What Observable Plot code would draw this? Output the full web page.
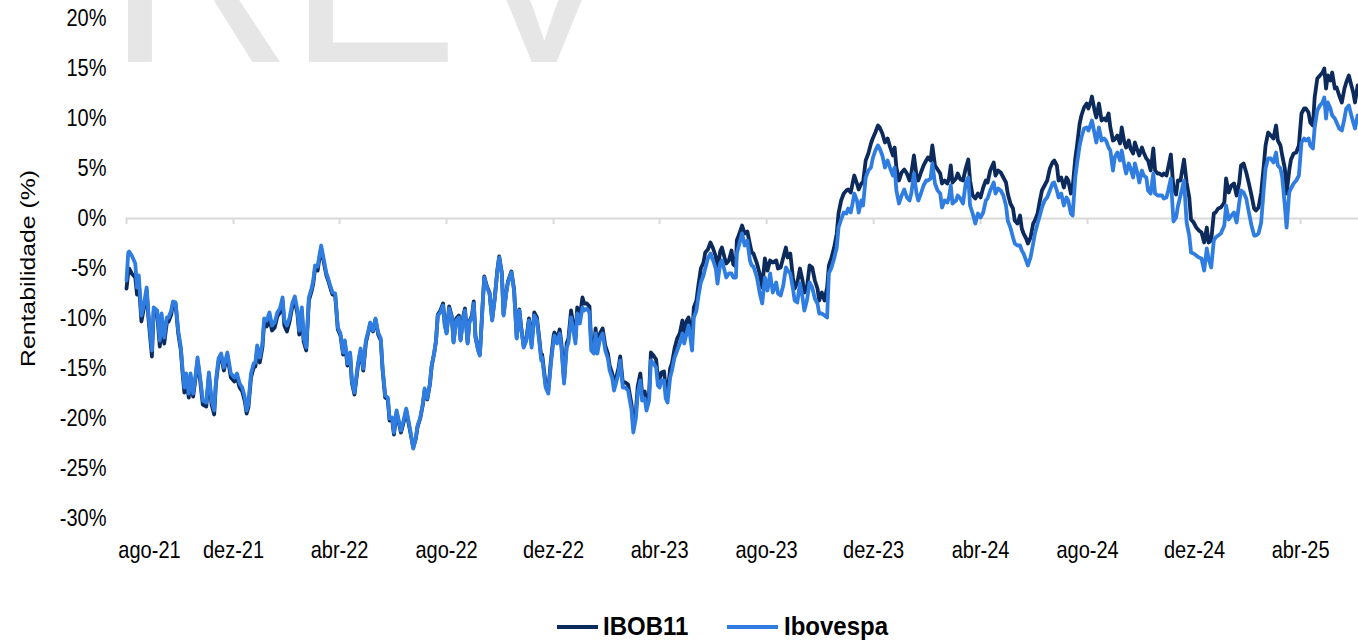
<!DOCTYPE html>
<html>
<head>
<meta charset="utf-8">
<script src="https://cdn.jsdelivr.net/npm/d3@7"></script>
<script src="https://cdn.jsdelivr.net/npm/@observablehq/plot@0.6"></script>
<style>
  html, body { margin: 0; padding: 0; background: #fff; }
  #wrap { position: relative; width: 1358px; height: 641px; overflow: hidden; font-family: Arial, "Liberation Sans", sans-serif; }
  #wm { position: absolute; left: 0; top: 0; }
  #chart { position: absolute; left: 0; top: 0; }
  #legend { position: absolute; left: 0; top: 0; width: 1358px; height: 641px; pointer-events: none; }
  .sw { position: absolute; height: 4px; top: 625px; }
  .lab { position: absolute; top: 615px; font-weight: bold; font-size: 24px; line-height: 22px; color: #000; transform: scaleY(1.1); transform-origin: 0 50%; white-space: nowrap; }
</style>
</head>
<body>
<div id="wrap">
  <svg id="wm" width="1358" height="64"><g font-family="Arial, 'Liberation Sans', sans-serif" font-size="256" fill="#e6e6e6"><text x="107" y="62">R</text><text x="288" y="62">EV</text></g></svg>
  <div id="chart"></div>
  <div id="legend"></div>
</div>
<script>
// ---- Data ----
const dates = [
"2021-08-01","2021-08-03","2021-08-04","2021-08-07","2021-08-11","2021-08-13","2021-08-15","2021-08-18","2021-08-21","2021-08-24",
"2021-08-26","2021-08-30","2021-09-01","2021-09-05","2021-09-08","2021-09-10","2021-09-13","2021-09-16","2021-09-18","2021-09-21",
"2021-09-23","2021-09-26","2021-09-29","2021-10-02","2021-10-04","2021-10-06","2021-10-08","2021-10-11","2021-10-13","2021-10-16",
"2021-10-19","2021-10-21","2021-10-24","2021-10-27","2021-10-31","2021-11-03","2021-11-06","2021-11-09","2021-11-11","2021-11-14",
"2021-11-17","2021-11-20","2021-11-24","2021-11-28","2021-12-02","2021-12-05","2021-12-08","2021-12-11","2021-12-14","2021-12-16",
"2021-12-18","2021-12-21","2021-12-24","2021-12-26","2021-12-28","2021-12-31","2022-01-03","2022-01-05","2022-01-08","2022-01-11",
"2022-01-14","2022-01-17","2022-01-20","2022-01-23","2022-01-26","2022-01-28","2022-01-31","2022-02-03","2022-02-06","2022-02-09",
"2022-02-12","2022-02-14","2022-02-17","2022-02-19","2022-02-22","2022-02-25","2022-02-28","2022-03-02","2022-03-04","2022-03-07",
"2022-03-09","2022-03-11","2022-03-14","2022-03-17","2022-03-19",
"2022-03-22","2022-03-24","2022-03-27","2022-03-30","2022-04-02","2022-04-05","2022-04-07","2022-04-10","2022-04-13","2022-04-15",
"2022-04-18","2022-04-22","2022-04-25","2022-04-28","2022-05-01","2022-05-04","2022-05-06","2022-05-09","2022-05-12","2022-05-15",
"2022-05-18","2022-05-20","2022-05-23","2022-05-26","2022-05-28","2022-05-31","2022-06-02","2022-06-05","2022-06-08","2022-06-10",
"2022-06-13","2022-06-16","2022-06-19","2022-06-22","2022-06-24","2022-06-27","2022-06-29","2022-07-02","2022-07-05","2022-07-07",
"2022-07-10","2022-07-13","2022-07-15","2022-07-18","2022-07-20","2022-07-22","2022-07-25","2022-07-28","2022-07-30","2022-08-01",
"2022-08-04","2022-08-07","2022-08-09","2022-08-12","2022-08-15","2022-08-17","2022-08-20","2022-08-22","2022-08-25","2022-08-27",
"2022-08-30","2022-09-01","2022-09-03","2022-09-06","2022-09-08","2022-09-11","2022-09-13","2022-09-16","2022-09-19","2022-09-22",
"2022-09-25","2022-09-28","2022-09-30","2022-10-03","2022-10-05","2022-10-08","2022-10-10","2022-10-14","2022-10-17","2022-10-20",
"2022-10-23","2022-10-25","2022-10-28","2022-10-31","2022-11-03","2022-11-06","2022-11-09","2022-11-12","2022-11-15","2022-11-17",
"2022-11-18","2022-11-22","2022-11-25","2022-11-28","2022-12-01","2022-12-02","2022-12-05","2022-12-08","2022-12-10","2022-12-13",
"2022-12-16","2022-12-18","2022-12-21","2022-12-23","2022-12-26","2022-12-28","2022-12-31","2023-01-03","2023-01-05","2023-01-08",
"2023-01-11","2023-01-13","2023-01-16","2023-01-18","2023-01-20","2023-01-23","2023-01-26","2023-01-29","2023-02-01","2023-02-03",
"2023-02-06","2023-02-08","2023-02-11","2023-02-13","2023-02-15","2023-02-18","2023-02-21","2023-02-24","2023-02-26","2023-02-28",
"2023-03-02","2023-03-05","2023-03-07","2023-03-10","2023-03-12","2023-03-15","2023-03-17","2023-03-20","2023-03-22","2023-03-25",
"2023-03-28","2023-03-30","2023-04-01","2023-04-03","2023-04-06","2023-04-08","2023-04-10","2023-04-13","2023-04-15","2023-04-18",
"2023-04-21","2023-04-24","2023-04-27","2023-04-29","2023-05-02","2023-05-04","2023-05-06","2023-05-08","2023-05-10","2023-05-13",
"2023-05-15","2023-05-18","2023-05-21","2023-05-23","2023-05-26","2023-05-29","2023-06-01","2023-06-04","2023-06-06","2023-06-09",
"2023-06-11","2023-06-14","2023-06-16","2023-06-19","2023-06-22","2023-06-24","2023-06-27","2023-06-28","2023-07-01","2023-07-04",
"2023-07-07","2023-07-10","2023-07-13","2023-07-15","2023-07-17",
"2023-07-21","2023-07-24","2023-07-27","2023-07-30","2023-08-02","2023-08-05","2023-08-08","2023-08-12","2023-08-14","2023-08-17",
"2023-08-20","2023-08-23","2023-08-25","2023-08-28","2023-08-31","2023-09-02","2023-09-05","2023-09-08","2023-09-11","2023-09-13",
"2023-09-16","2023-09-19","2023-09-22","2023-09-25","2023-09-28","2023-09-30","2023-10-03","2023-10-06","2023-10-09","2023-10-11",
"2023-10-14","2023-10-17","2023-10-20","2023-10-22","2023-10-25","2023-10-28","2023-10-31","2023-11-02","2023-11-05","2023-11-07",
"2023-11-09","2023-11-12","2023-11-14","2023-11-17","2023-11-19","2023-11-22","2023-11-25","2023-11-28","2023-11-30","2023-12-03",
"2023-12-06","2023-12-08","2023-12-11","2023-12-14","2023-12-17","2023-12-20","2023-12-23","2023-12-25","2023-12-27","2023-12-30",
"2024-01-02","2024-01-05","2024-01-08","2024-01-11","2024-01-13","2024-01-16","2024-01-19","2024-01-21","2024-01-24","2024-01-27",
"2024-01-30","2024-02-01","2024-02-04","2024-02-06","2024-02-09","2024-02-12","2024-02-15","2024-02-17","2024-02-20","2024-02-23",
"2024-02-25","2024-02-27","2024-02-29","2024-03-04","2024-03-06","2024-03-09","2024-03-12","2024-03-15","2024-03-18","2024-03-20",
"2024-03-23","2024-03-26","2024-03-29","2024-04-01","2024-04-04","2024-04-07","2024-04-09","2024-04-12","2024-04-16","2024-04-18",
"2024-04-21","2024-04-24","2024-04-27","2024-04-30","2024-05-02","2024-05-05","2024-05-08","2024-05-10","2024-05-13","2024-05-16",
"2024-05-18","2024-05-20","2024-05-23","2024-05-25","2024-05-28","2024-05-31","2024-06-02","2024-06-05","2024-06-07","2024-06-10",
"2024-06-13","2024-06-16","2024-06-19","2024-06-22","2024-06-24","2024-06-27","2024-06-29","2024-07-02","2024-07-05","2024-07-08",
"2024-07-10","2024-07-13","2024-07-15","2024-07-18","2024-07-20","2024-07-23","2024-07-25","2024-07-28","2024-07-31","2024-08-02",
"2024-08-05","2024-08-06","2024-08-09","2024-08-11","2024-08-14","2024-08-17","2024-08-20","2024-08-22","2024-08-25","2024-08-27",
"2024-08-30","2024-09-01","2024-09-04","2024-09-07","2024-09-09","2024-09-12","2024-09-14","2024-09-17","2024-09-19","2024-09-22",
"2024-09-24","2024-09-27","2024-09-29","2024-10-02","2024-10-04","2024-10-07","2024-10-09","2024-10-12","2024-10-15","2024-10-17",
"2024-10-20","2024-10-22","2024-10-25","2024-10-27","2024-10-30","2024-11-01","2024-11-04","2024-11-07","2024-11-10","2024-11-12",
"2024-11-15","2024-11-19","2024-11-22","2024-11-25","2024-11-27","2024-11-30","2024-12-03","2024-12-06","2024-12-09","2024-12-12",
"2024-12-15","2024-12-17","2024-12-20","2024-12-23","2024-12-25","2024-12-28","2024-12-31","2025-01-04","2025-01-06","2025-01-09",
"2025-01-12","2025-01-15","2025-01-18","2025-01-21","2025-01-23","2025-01-26","2025-01-29","2025-02-01","2025-02-04","2025-02-07",
"2025-02-09","2025-02-12","2025-02-15","2025-02-18","2025-02-20","2025-02-23","2025-02-26","2025-03-01","2025-03-04","2025-03-06",
"2025-03-09","2025-03-11","2025-03-14","2025-03-16","2025-03-19","2025-03-21","2025-03-24","2025-03-27","2025-03-30","2025-04-02",
"2025-04-05","2025-04-07","2025-04-10","2025-04-12","2025-04-15","2025-04-17","2025-04-20","2025-04-23","2025-04-26","2025-04-28",
"2025-04-30","2025-05-02","2025-05-05","2025-05-07","2025-05-10","2025-05-12","2025-05-15","2025-05-18","2025-05-21","2025-05-23",
"2025-05-26","2025-05-28","2025-05-31","2025-06-02","2025-06-05"
];

// IBOB11 return (%)
const ibob11 = [
-7.0,-5.4,-5.0,-5.5,-5.9,-7.6,-6.3,-10.3,-8.9,-7.2,
-9.9,-13.8,-9.3,-9.6,-12.8,-10.0,-12.5,-10.4,-10.3,-9.6,
-8.5,-8.6,-11.5,-13.2,-15.5,-17.4,-15.9,-17.9,-15.9,-17.8,
-15.8,-14.2,-16.2,-18.6,-18.8,-15.7,-18.6,-19.6,-16.5,-14.3,
-13.8,-15.2,-13.7,-15.9,-16.3,-15.9,-16.9,-17.3,-18.3,-19.5,
-18.9,-15.9,-14.9,-14.8,-13.1,-14.4,-12.9,-10.4,-10.8,-10.0,
-11.2,-10.9,-9.8,-9.4,-8.3,-10.7,-11.3,-10.3,-8.9,-8.2,
-9.6,-11.6,-9.3,-12.3,-13.2,-8.2,-7.3,-6.5,-5.0,-5.2,
-4.0,-3.0,-4.4,-5.7,-6.2,
-7.1,-7.6,-7.7,-11.1,-11.7,-13.6,-12.4,-14.7,-13.6,-16.4,
-17.6,-14.7,-13.2,-15.2,-12.4,-11.3,-10.5,-11.3,-10.1,-11.6,
-12.2,-15.1,-17.9,-18.1,-20.2,-20.1,-21.6,-19.4,-20.6,-21.4,
-20.4,-19.2,-20.6,-22.0,-22.9,-22.0,-20.8,-20.0,-18.6,-17.2,
-18.1,-16.6,-14.8,-13.4,-12.2,-9.6,-9.2,-8.5,-10.6,-11.4,
-8.8,-9.8,-12.3,-10.0,-9.7,-12.1,-9.8,-9.0,-12.4,-10.3,
-9.7,-8.3,-11.8,-13.1,-13.6,-8.8,-5.8,-6.8,-7.4,-10.1,
-7.9,-5.1,-3.8,-5.4,-9.6,-7.4,-6.3,-5.3,-7.1,-11.9,
-9.1,-10.8,-12.8,-12.0,-10.0,-12.6,-9.4,-9.9,-12.2,-13.9,
-13.6,-16.6,-17.2,-14.2,-11.8,-11.4,-12.1,-11.1,-12.5,-16.2,
-12.5,-12.0,-9.2,-10.3,-12.0,-8.9,-9.9,-7.9,-8.5,-8.5,
-8.8,-12.6,-12.9,-11.0,-13.0,-11.5,-11.0,-12.7,-13.5,-14.7,
-15.5,-16.7,-15.7,-15.0,-13.8,-16.4,-16.4,-16.6,-17.6,-18.6,
-20.8,-19.2,-16.8,-15.5,-17.5,-17.3,-18.5,-17.5,-13.4,-13.7,
-14.1,-15.9,-16.0,-15.4,-15.3,-17.0,-17.5,-15.0,-14.5,-13.0,
-12.0,-11.5,-10.2,-11.4,-10.2,-9.9,-10.8,-11.9,-8.9,-8.2,
-6.8,-5.0,-4.4,-3.4,-3.1,-2.4,-3.0,-3.8,-5.3,-3.3,
-2.9,-3.9,-4.5,-4.2,-3.2,-4.6,-4.8,-2.2,-1.5,-0.7,
-1.5,-1.3,-2.6,-3.4,-3.5,
-4.5,-5.5,-6.9,-4.0,-5.2,-4.2,-4.4,-4.2,-5.0,-4.9,
-3.9,-2.9,-3.9,-3.5,-5.9,-7.0,-6.4,-5.0,-6.2,-7.4,
-6.9,-4.7,-4.9,-6.2,-7.0,-8.2,-7.4,-8.2,-6.9,-4.7,
-3.9,-2.9,-1.5,0.5,1.8,2.5,2.8,2.9,2.6,3.5,
4.3,3.5,2.9,3.5,3.6,5.8,6.5,7.5,8.0,8.6,
9.3,9.1,8.5,7.6,8.0,7.1,6.3,7.1,5.1,3.8,
4.6,4.9,4.5,3.8,4.5,6.3,4.3,3.8,4.6,5.3,
5.8,6.1,5.8,7.3,5.3,4.9,4.5,3.5,3.8,3.5,
4.0,5.3,3.6,4.0,4.5,3.9,3.8,5.0,5.9,3.8,
2.3,2.0,2.5,2.1,3.1,3.8,3.6,4.8,5.6,4.3,
4.8,4.6,4.1,3.6,2.5,1.5,1.0,-0.2,-0.5,0.3,
-1.0,-1.5,-2.0,-2.5,-1.9,-0.5,-0.2,0.5,1.5,2.8,
3.3,3.8,5.0,5.6,5.8,5.3,3.8,4.1,3.1,4.1,
3.8,2.5,3.1,6.0,7.3,9.5,10.3,11.1,11.5,11.0,
11.8,12.2,10.8,10.1,11.5,9.8,10.0,9.8,10.5,9.1,
7.8,7.9,8.3,7.5,9.1,7.6,7.1,7.8,7.0,6.5,
7.6,6.8,6.3,7.1,6.6,6.0,5.8,4.8,7.0,4.8,
4.5,4.5,4.3,4.5,4.3,5.1,6.4,3.0,2.4,3.8,
3.8,5.9,3.6,2.1,-0.1,-0.4,-0.9,-1.2,-1.4,-2.4,
-0.9,-2.4,-2.2,0.5,0.6,1.0,1.1,1.6,4.0,2.6,
3.3,3.5,2.3,3.6,5.3,5.5,4.6,3.5,2.3,1.0,
0.8,1.1,2.6,5.3,7.3,8.6,8.3,8.0,9.3,7.8,
7.3,6.3,5.0,2.5,4.8,5.9,6.5,6.6,7.3,10.5,
11.0,11.0,10.6,9.6,9.3,12.1,14.0,14.3,14.6,15.0,
13.0,14.3,13.8,14.6,13.0,13.1,12.3,11.6,13.0,13.6,
14.3,13.6,12.6,11.6,13.3
];

// Ibovespa return (%)
const ibovespa = [
-6.2,-3.4,-3.3,-3.7,-4.5,-6.9,-5.7,-9.7,-8.5,-6.9,
-9.5,-13.2,-8.9,-9.2,-12.2,-9.5,-11.9,-9.9,-9.9,-9.2,
-8.3,-8.4,-11.2,-12.9,-15.2,-16.9,-15.5,-17.5,-15.5,-17.5,
-15.5,-13.9,-15.9,-18.2,-18.4,-15.4,-18.2,-19.2,-16.2,-14.0,
-13.5,-14.9,-13.4,-15.5,-15.9,-15.5,-16.5,-16.9,-17.9,-19.2,
-18.5,-15.5,-14.5,-14.4,-12.7,-13.9,-12.5,-10.0,-10.2,-9.4,
-10.7,-10.4,-9.4,-9.0,-7.9,-10.2,-10.7,-9.9,-8.5,-7.8,
-9.2,-11.2,-8.9,-11.9,-12.9,-7.9,-7.0,-6.2,-4.7,-4.8,
-3.7,-2.7,-4.1,-5.5,-6.0,
-6.9,-7.4,-7.5,-10.9,-11.5,-13.4,-12.2,-14.5,-13.4,-16.2,
-17.4,-14.5,-13.0,-15.0,-12.2,-11.2,-10.4,-11.2,-10.0,-11.4,
-12.0,-14.9,-17.7,-17.9,-20.0,-19.9,-21.4,-19.2,-20.4,-21.2,
-20.2,-19.0,-20.4,-21.9,-23.0,-21.9,-20.7,-19.9,-18.5,-17.0,
-18.0,-16.5,-14.7,-13.4,-12.2,-9.7,-9.4,-8.7,-10.7,-11.5,
-9.0,-9.9,-12.4,-10.2,-9.9,-12.2,-10.0,-9.2,-12.5,-10.4,
-9.9,-8.5,-11.9,-13.2,-13.7,-8.9,-5.9,-6.9,-7.5,-10.2,
-8.0,-5.2,-3.9,-5.5,-9.7,-7.5,-6.4,-5.4,-7.2,-12.0,
-9.2,-10.9,-12.9,-12.2,-10.2,-12.9,-9.7,-10.2,-12.5,-14.2,
-13.9,-16.9,-17.5,-14.5,-12.2,-11.7,-12.5,-11.5,-12.9,-16.5,
-12.9,-12.4,-9.9,-10.9,-12.5,-9.5,-10.5,-8.9,-9.2,-9.0,
-9.4,-13.2,-13.5,-11.5,-13.5,-12.0,-11.5,-13.2,-14.0,-15.2,
-16.0,-17.2,-16.2,-15.5,-14.2,-16.9,-16.9,-17.2,-18.2,-19.2,
-21.4,-19.9,-17.5,-16.2,-18.2,-18.0,-19.2,-18.2,-14.2,-14.5,
-14.9,-16.7,-16.9,-16.2,-16.2,-18.0,-18.4,-15.9,-15.2,-13.9,
-13.2,-12.5,-11.5,-12.5,-11.4,-10.7,-11.9,-13.2,-9.9,-9.2,
-7.9,-6.4,-5.7,-5.0,-4.0,-3.5,-4.2,-5.0,-6.5,-4.5,
-4.2,-5.2,-5.9,-5.5,-5.5,-5.9,-5.9,-3.5,-2.5,-1.5,
-2.7,-2.2,-4.2,-4.7,-4.8,
-5.9,-7.4,-8.5,-5.9,-7.2,-5.5,-7.4,-6.4,-7.5,-7.7,
-6.7,-4.9,-5.2,-5.5,-7.0,-8.2,-8.4,-6.5,-7.9,-9.2,
-8.2,-6.4,-6.9,-8.0,-8.5,-9.5,-9.5,-9.7,-9.9,-5.5,
-4.9,-4.0,-2.9,-0.9,-0.1,0.6,0.5,1.0,0.6,1.5,
2.5,1.8,0.6,1.8,1.3,4.1,4.8,5.1,6.0,6.8,
7.3,7.0,6.3,5.1,5.8,5.0,4.3,5.1,2.8,1.5,
2.3,2.9,2.1,1.8,2.5,4.5,2.5,1.8,2.5,3.3,
3.8,3.8,4.0,5.5,3.5,2.8,2.5,1.1,1.8,1.6,
2.1,3.3,1.5,1.8,2.3,2.0,1.5,3.5,4.1,1.3,
0.5,-0.5,0.5,0.1,0.6,1.8,2.0,2.8,3.6,2.5,
3.0,2.8,2.3,1.3,-0.2,-0.9,-1.9,-2.5,-2.7,-2.7,
-3.2,-3.5,-4.2,-4.7,-3.9,-2.5,-1.5,-0.5,0.1,1.1,
1.8,2.1,2.8,3.5,3.6,2.8,2.1,2.5,1.3,2.1,
1.8,0.5,0.3,4.1,5.5,7.3,8.1,9.0,9.1,8.8,
9.5,9.8,8.5,7.6,9.1,7.8,8.0,7.8,7.1,6.8,
4.8,6.1,6.6,5.8,6.8,5.3,4.5,5.5,5.0,4.1,
5.5,4.5,3.6,4.8,4.3,4.1,2.8,2.5,4.5,2.5,
2.3,2.3,2.3,2.0,2.1,2.8,4.0,-0.3,0.1,1.2,
2.3,3.8,-0.4,-1.7,-3.4,-3.5,-3.7,-3.9,-4.0,-5.2,
-3.0,-4.0,-4.9,-2.2,-1.9,-1.7,-1.5,-0.7,1.3,-0.1,
0.3,0.6,-0.4,1.6,2.8,2.6,2.0,0.6,-0.7,-1.7,
-1.7,-1.5,-0.4,3.0,5.0,6.0,6.0,5.6,6.6,5.3,
5.0,4.1,1.3,-0.9,2.6,3.0,3.5,3.8,4.3,7.6,
8.0,7.8,8.0,7.3,7.0,9.1,10.8,11.3,11.6,12.1,
10.0,11.6,11.0,10.3,10.0,9.6,9.0,8.8,10.0,11.0,
11.3,10.6,9.6,9.0,10.3
];

const yTicks = [20, 15, 10, 5, 0, -5, -10, -15, -20, -25, -30];
const tickDates = ["2021-08-01","2021-12-01","2022-04-01","2022-08-01","2022-12-01","2023-04-01",
                   "2023-08-01","2023-12-01","2024-04-01","2024-08-01","2024-12-01","2025-04-01"];
const tickLabels = ["ago-21","dez-21","abr-22","ago-22","dez-22","abr-23",
                    "ago-23","dez-23","abr-24","ago-24","dez-24","abr-25"];
const seriesNames = ["IBOB11", "Ibovespa"];
const seriesColors = ["#0c2a5b", "#2f7de1"];
const yLabel = "Rentabilidade (%)";
const xDomain = ["2021-08-01", "2025-06-06"];

// ---- Build ----
const rows = dates.map((d, i) => ({date: new Date(d), ibob: ibob11[i], ibov: ibovespa[i]}));
const tickDateObjs = tickDates.map(d => new Date(d));
const labelByTime = new Map(tickDateObjs.map((d, i) => [+d, tickLabels[i]]));
const fmtX = d => labelByTime.get(+d);

const chart = Plot.plot({
  width: 1358,
  height: 600,
  marginLeft: 126,
  marginRight: 0,
  marginTop: 18,
  marginBottom: 82,
  style: {fontFamily: "Arial, 'Liberation Sans', sans-serif", fontSize: "20px", color: "#000", background: "transparent", overflow: "visible"},
  x: {type: "utc", domain: xDomain.map(d => new Date(d))},
  y: {domain: [-30, 20]},
  marks: [
    Plot.ruleY([0], {stroke: "#d9d9d9", strokeWidth: 2}),
    Plot.ruleX(tickDateObjs, {x: d => d, y1: 0, y2: -0.6, stroke: "#d9d9d9", strokeWidth: 2}),
    Plot.axisY({ticks: yTicks, tickFormat: d => d + "%", tickSize: 0, tickPadding: 20, label: null, fontSize: 20}),
    Plot.axisX({ticks: tickDateObjs.slice(0, 1), tickFormat: fmtX, tickSize: 0, tickPadding: 24, label: null, fontSize: 20, dx: 23}),
    Plot.axisX({ticks: tickDateObjs.slice(1), tickFormat: fmtX, tickSize: 0, tickPadding: 24, label: null, fontSize: 20}),
    Plot.text([yLabel], {frameAnchor: "left", textAnchor: "middle", dx: -98, rotate: -90, fontSize: 20, fill: "#000", ariaLabel: "ylabel"}),
    Plot.lineY(rows, {x: "date", y: "ibob", stroke: seriesColors[0], strokeWidth: 3.8, strokeLinejoin: "round"}),
    Plot.lineY(rows, {x: "date", y: "ibov", stroke: seriesColors[1], strokeWidth: 3.8, strokeLinejoin: "round"})
  ]
});
document.getElementById("chart").appendChild(chart);

// The reference's type is drawn taller than it is wide: stretch texts about their own centre
function stretch(el, sx, sy) {
  const b = el.getBBox();
  const cx = b.x + b.width / 2, cy = b.y + b.height / 2;
  const t = el.getAttribute("transform") || "";
  el.setAttribute("transform", `${t} translate(${cx},${cy}) scale(${sx},${sy}) translate(${-cx},${-cy})`.trim());
}
chart.querySelectorAll("text").forEach(el => {
  const g = el.closest("g");
  const label = g ? g.getAttribute("aria-label") : "";
  if (label === "y-axis tick label" || label === "x-axis tick label") stretch(el, 1, 1.22);
  else if (el.textContent === yLabel) stretch(el, 1.24, 1);
});

// Legend below the plot
const legend = document.getElementById("legend");
const swLeft = [557, 727], swWidth = [41, 51], labLeft = [603, 784];
seriesNames.forEach((name, i) => {
  const sw = document.createElement("div");
  sw.className = "sw";
  sw.style.left = swLeft[i] + "px";
  sw.style.width = swWidth[i] + "px";
  sw.style.background = seriesColors[i];
  const lab = document.createElement("div");
  lab.className = "lab";
  lab.style.left = labLeft[i] + "px";
  lab.textContent = name;
  legend.appendChild(sw);
  legend.appendChild(lab);
});
</script>
</body>
</html>
